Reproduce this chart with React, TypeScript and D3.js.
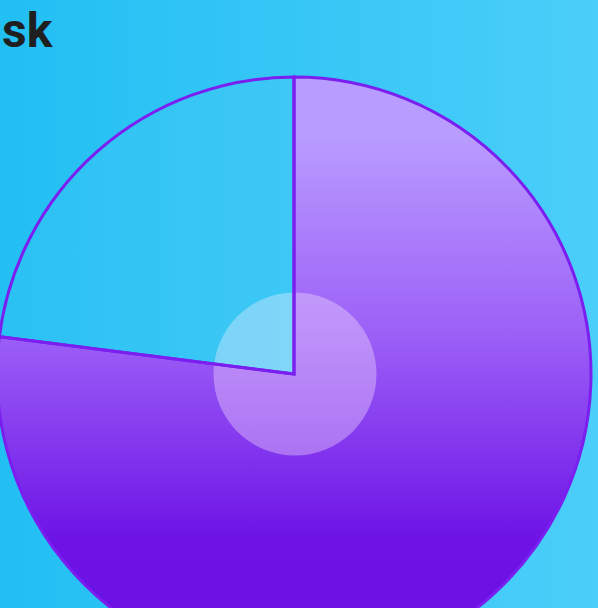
import React from "react";
import * as d3 from "d3";

const labels = ["Risk", "Rest"];
const values = [77, 23];
const title = "sk";

const W = 598;
const H = 608;

export default function App() {
  const cx = 294;
  const cy = 374;
  const r = 297;
  const pie = d3.pie<number>().sort(null).value((d) => d);
  const arcs = pie(values);
  const arc = d3.arc<d3.PieArcDatum<number>>().innerRadius(0).outerRadius(r);
  return (
    <svg
      width={W}
      height={H}
      style={{ position: "absolute", left: 0, top: 0, display: "block" }}
    >
      <defs>
        <linearGradient id="bg" x1="0" y1="0" x2="1" y2="0">
          <stop offset="0" stopColor="#22bff3" />
          <stop offset="1" stopColor="#4bcef9" />
        </linearGradient>
        <linearGradient
          id="pg"
          gradientUnits="userSpaceOnUse"
          x1="0"
          y1={-r}
          x2="0"
          y2={r}
        >
          <stop offset="0.1" stopColor="#b99cff" />
          <stop offset="0.45" stopColor="#9a5cf6" />
          <stop offset="0.78" stopColor="#6d13e6" />
          <stop offset="1" stopColor="#6a10e4" />
        </linearGradient>
      </defs>
      <rect x={0} y={0} width={W} height={H} fill="url(#bg)" />
      <g transform={`translate(${cx},${cy})`}>
        {arcs.map((a, i) => (
          <path
            key={labels[i]}
            d={arc(a) || ""}
            fill={i === 0 ? "url(#pg)" : "rgba(255,255,255,0.04)"}
            stroke="none"
          />
        ))}
        <circle cx={1} cy={0} r={81.5} fill="rgba(255,240,255,0.34)" />
        {arcs.map((a, i) => (
          <path
            key={labels[i] + "-s"}
            d={arc(a) || ""}
            fill="none"
            stroke="#7a1ff0"
            strokeWidth={3}
            strokeLinejoin="miter"
          />
        ))}
      </g>
      <text
        x={2}
        y={47}
        fontFamily="Roboto, sans-serif"
        fontWeight={700}
        fontSize={48}
        fill="#1f1f1f"
      >
        {title}
      </text>
    </svg>
  );
}
